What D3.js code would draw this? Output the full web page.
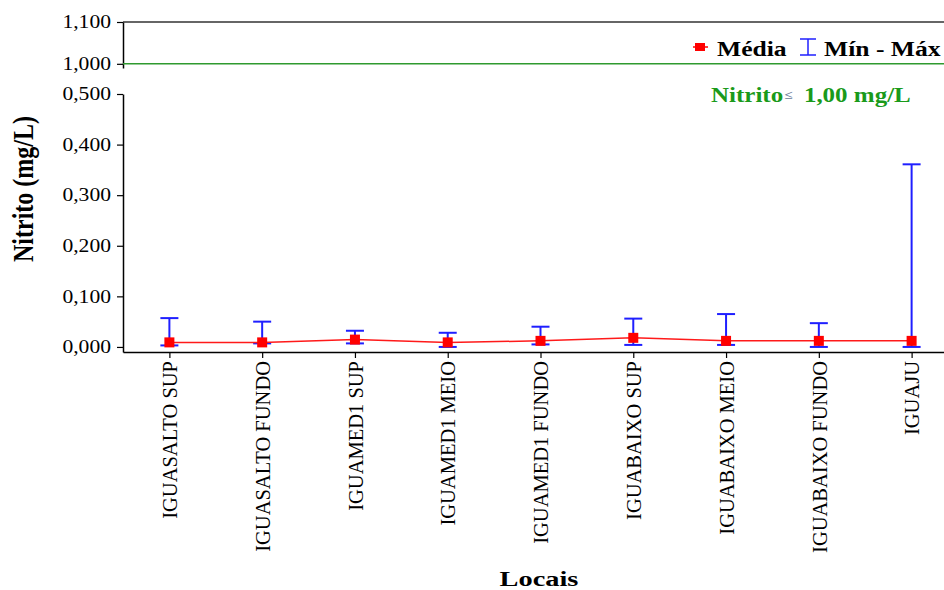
<!DOCTYPE html>
<html>
<head>
<meta charset="utf-8">
<script src="https://cdn.jsdelivr.net/npm/d3@7"></script>
<style>
  html, body { margin: 0; padding: 0; background: #fff; }
  svg { display: block; }
  svg text { font-family: "Liberation Serif", "Tinos", "Times New Roman", "DejaVu Serif", serif; }
</style>
</head>
<body>
<svg id="chart" width="944" height="590"></svg>
<script>
// Sampling sites and nitrite statistics (mg/L)
const locais = ["IGUASALTO SUP", "IGUASALTO FUNDO", "IGUAMED1 SUP", "IGUAMED1 MEIO",
  "IGUAMED1 FUNDO", "IGUABAIXO SUP", "IGUABAIXO MEIO", "IGUABAIXO FUNDO", "IGUAJU"];
const media  = [0.009, 0.009, 0.0145, 0.009, 0.012, 0.018, 0.012, 0.012, 0.012];
const minimo = [0.003, 0.007, 0.007, 0.000, 0.005, 0.004, 0.004, 0.000, 0.000];
const maximo = [0.057, 0.050, 0.032, 0.028, 0.040, 0.056, 0.065, 0.047, 0.361];
const ticksLow  = [0, 0.1, 0.2, 0.3, 0.4, 0.5];
const ticksHigh = [1.0, 1.1];
const limite = 1.0; // legal limit for nitrite

const svg = d3.select("#chart");
const ptBR = d3.formatLocale({ decimal: ",", thousands: ".", grouping: [3], currency: ["R$", ""] });
const fmt = ptBR.format(".3f");
const SX = 1.25; // horizontal widening of the lettering

const left = 123, right = 958;
const x = d3.scalePoint().domain(locais).range([left, right]).padding(0.5);
const yLow = d3.scaleLinear().domain([-0.01, 0.5]).range([352, 94]);
const yHigh = d3.scaleLinear().domain([0.99, 1.1]).range([68, 22]);

// Places a horizontally widened text at (px, py)
function wideText(parent, px, py, str, size, sx) {
  return parent.append("text")
    .attr("transform", `translate(${px},${py}) scale(${sx},1)`)
    .attr("font-size", size).text(str);
}

// Upper panel (broken axis) with limit line
svg.append("line").attr("x1", left).attr("x2", 944).attr("y1", yHigh(1.1)).attr("y2", yHigh(1.1))
  .attr("stroke", "#333").attr("stroke-width", 1.5);

const axHigh = svg.append("g").attr("transform", `translate(${left},0)`)
  .call(d3.axisLeft(yHigh).tickValues(ticksHigh).tickFormat(fmt).tickSize(6).tickSizeOuter(0));
const axLow = svg.append("g").attr("transform", `translate(${left},0)`)
  .call(d3.axisLeft(yLow).tickValues(ticksLow).tickFormat(fmt).tickSize(6).tickSizeOuter(0));
[axHigh, axLow].forEach(g => {
  g.attr("font-family", null).attr("font-size", null);
  g.select(".domain").attr("stroke", "#000").attr("stroke-width", 1.5);
  g.selectAll(".tick line").attr("stroke", "#000").attr("stroke-width", 1.2);
  g.selectAll(".tick text").attr("font-size", 18).attr("fill", "#000")
    .attr("x", 0).attr("transform", "translate(-12,0) scale(1.2,1)");
});

svg.append("line").attr("x1", left).attr("x2", 944).attr("y1", yHigh(limite)).attr("y2", yHigh(limite))
  .attr("stroke", "#2f9a2f").attr("stroke-width", 1.5);

// Bottom axis
const axX = svg.append("g").attr("transform", `translate(0,352)`)
  .call(d3.axisBottom(x).tickSize(6).tickSizeOuter(0));
axX.attr("font-family", null).attr("font-size", null);
axX.select(".domain").attr("stroke", "#000").attr("stroke-width", 1.5);
axX.selectAll(".tick line").attr("stroke", "#000").attr("stroke-width", 1.2);
axX.selectAll(".tick text")
  .attr("font-size", 20.5).attr("fill", "#000")
  .attr("transform", "rotate(-90)")
  .attr("text-anchor", "end")
  .attr("x", -9).attr("y", 0).attr("dy", "0.35em");

// Min - max whiskers
const capW = 9;
const wh = svg.append("g").attr("stroke", "#1f1fff").attr("stroke-width", 2).attr("fill", "none");
locais.forEach((d, i) => {
  const cx = x(d);
  wh.append("line").attr("x1", cx).attr("x2", cx).attr("y1", yLow(minimo[i])).attr("y2", yLow(maximo[i]));
  wh.append("line").attr("x1", cx - capW).attr("x2", cx + capW).attr("y1", yLow(minimo[i])).attr("y2", yLow(minimo[i]));
  wh.append("line").attr("x1", cx - capW).attr("x2", cx + capW).attr("y1", yLow(maximo[i])).attr("y2", yLow(maximo[i]));
});

// Mean line and markers
const line = d3.line().x((d, i) => x(locais[i])).y(d => yLow(d));
svg.append("path").datum(media).attr("d", line)
  .attr("fill", "none").attr("stroke", "#ff1a1a").attr("stroke-width", 1.5);
svg.append("g").selectAll("rect").data(media).join("rect")
  .attr("x", (d, i) => x(locais[i]) - 5).attr("y", d => yLow(d) - 5)
  .attr("width", 10).attr("height", 10).attr("fill", "#ff0000");

// Legend
const lg = svg.append("g");
lg.append("line").attr("x1", 693).attr("x2", 708).attr("y1", 47).attr("y2", 47).attr("stroke", "#ff0000").attr("stroke-width", 1.5);
lg.append("rect").attr("x", 695).attr("y", 43).attr("width", 10).attr("height", 8).attr("fill", "#ff0000");
wideText(lg, 717, 56, "Média", 20, 1.28).attr("font-weight", "bold");
const ib = lg.append("g").attr("stroke", "#1f1fff").attr("stroke-width", 1.5);
ib.append("line").attr("x1", 808).attr("x2", 808).attr("y1", 39).attr("y2", 55);
ib.append("line").attr("x1", 800).attr("x2", 816).attr("y1", 39).attr("y2", 39);
ib.append("line").attr("x1", 800).attr("x2", 816).attr("y1", 55).attr("y2", 55);
wideText(lg, 824, 56, "Mín - Máx", 20, 1.28).attr("font-weight", "bold");

const lim = wideText(svg, 711, 102, null, 20, SX)
  .attr("font-weight", "bold").attr("fill", "#1a9a1a");
lim.append("tspan").text("Nitrito");
lim.append("tspan").attr("font-size", 12).attr("fill", "#6a7a9a").attr("dx", 1).attr("dy", -3).text("≤");
lim.append("tspan").attr("dx", 4).attr("dy", 3).text(" 1,00 mg/L");

// Axis titles
svg.append("text").attr("transform", "translate(33,189) rotate(-90) scale(1,1.2)")
  .attr("text-anchor", "middle").attr("font-size", 24).attr("font-weight", "bold").text("Nitrito (mg/L)");
wideText(svg, 539, 586, "Locais", 22, 1.29)
  .attr("text-anchor", "middle").attr("font-weight", "bold");
</script>
</body>
</html>
